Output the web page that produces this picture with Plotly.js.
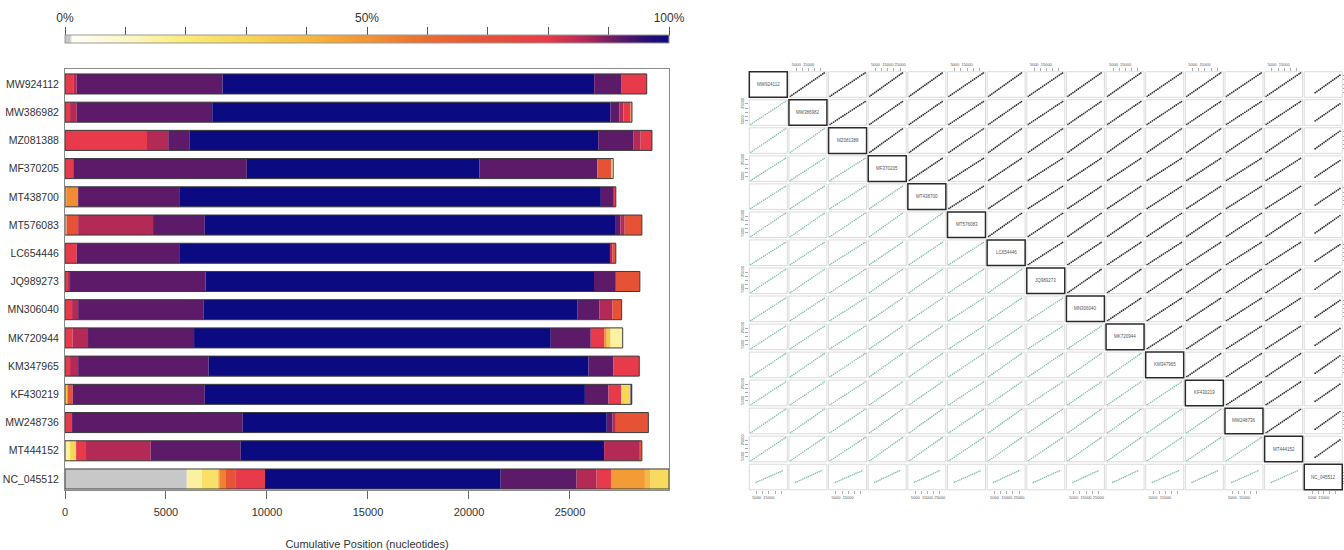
<!DOCTYPE html>
<html><head><meta charset="utf-8">
<script src="https://cdn.plot.ly/plotly-3.0.1.min.js"></script>
<style>html,body{margin:0;padding:0;background:#fff}#chart{width:1344px;height:550px}</style>
</head><body><div id="chart"></div>
<script>
// ---------- genomes (rows, top to bottom) ----------
const genomes = ['MW924112','MW386982','MZ081388','MF370205','MT438700','MT576083','LC654446','JQ989273','MN306040','MK720944','KM347965','KF430219','MW248736','MT444152','NC_045512'];

// ---------- left chart: segment lengths (nt) and identity (%) ----------
const segMW924112 = [410,170,7220,18400,1360,1240];
const pctMW924112 = [80,86,92,100,92,80];
const segMW386982 = [250,330,6710,19720,430,200,360,70];
const pctMW386982 = [80,86,92,100,92,86,80,50];
const segMZ081388 = [4060,1050,1070,20220,1730,370,560];
const pctMZ081388 = [80,86,92,100,92,86,80];
const segMF370205 = [410,8590,11510,5840,710,80];
const pctMF370205 = [80,92,100,92,70,15];
const segMT438700 = [60,590,5040,20840,640,100];
const pctMT438700 = [30,52,92,100,92,80];
const segMT576083 = [70,580,3710,2560,20350,230,210,850];
const pctMT576083 = [12,70,86,92,100,92,86,70];
const segLC654446 = [580,5110,21290,130,160];
const pctLC654446 = [80,92,100,86,70];
const segJQ989273 = [150,100,6710,19230,1080,1190];
const pctJQ989273 = [80,86,92,100,92,70];
const segMN306040 = [350,300,6200,18530,1070,660,450];
const pctMN306040 = [80,86,92,100,92,86,70];
const segMK720944 = [380,760,5250,17660,1980,660,130,190,600];
const pctMK720944 = [80,86,92,100,92,80,50,35,15];
const segKM347965 = [250,400,6460,18810,1220,1290];
const pctKM347965 = [80,86,92,100,92,80];
const segKF430219 = [120,260,6540,18820,1170,630,460,60];
const pctKF430219 = [35,70,92,100,92,80,30,100];
const segMW248736 = [350,8450,18020,290,160,1610];
const pctMW248736 = [80,92,100,92,86,70];
const segMT444152 = [250,300,490,3200,4460,17990,1770,100];
const pctMT444152 = [15,30,80,86,92,100,86,70];
const segNC_045512 = [6030,740,820,80,300,490,1440,11670,3760,990,710,1680,280,913];
const pctNC_045512 = [0,15,25,45,55,70,80,100,92,86,80,48,40,28];

const xTicks = [0,5000,10000,15000,20000,25000];
const xTickLabels = ['0','5000','10000','15000','20000','25000'];
const scaleTicks = [0,10,20,30,40,50,60,70,80,90,100];
const scaleLabels = ['0%','','','','','50%','','','','','100%'];

// ---------- right chart: aligned anchor positions per genome ----------
const pMW924112 = [210,1530,3040,4560,6050,7590,9080,10620,12110,13640,15170,16660,18190,19700,21230,22740,24250,25770,27290,28480];
const pMW386982 = [190,1470,2960,4430,5910,7380,8870,10340,11820,13300,14770,16250,17730,19210,20680,22160,23640,25110,26590,27780];
const pMZ081388 = [220,1540,3070,4600,6120,7660,9190,10710,12250,13770,15300,16830,18370,19890,21420,22950,24480,26010,27540,28760];
const pMF370205 = [180,1430,2860,4280,5710,7140,8570,9990,11420,12850,14280,15710,17140,18560,19990,21420,22850,24280,25700,26850];
const pMT438700 = [190,1440,2870,4300,5740,7180,8610,10050,11480,12920,14350,15790,17230,18660,20100,21530,22970,24400,25840,26990];
const pMT576083 = [200,1500,3010,4510,6010,7520,9020,10520,12030,13530,15030,16530,18040,19540,21040,22550,24050,25550,27060,28260];
const pLC654446 = [190,1430,2870,4310,5740,7170,8610,10040,11490,12920,14350,15790,17220,18660,20090,21530,22960,24400,25830,26980];
const pJQ989273 = [200,1500,3000,4490,5990,7490,8990,10480,11980,13480,14980,16480,17970,19470,20970,22470,23970,25460,26960,28150];
const pMN306040 = [190,1450,2900,4350,5800,7250,8700,10150,11600,13050,14500,15960,17410,18860,20310,21760,23210,24660,26110,27260];
const pMK720944 = [190,1450,2910,4360,5810,7270,8720,10170,11630,13080,14540,15990,17440,18900,20350,21800,23250,24710,26160,27310];
const pKM347965 = [200,1500,2990,4490,5990,7480,8980,10470,11970,13470,14960,16460,17960,19450,20950,22440,23940,25440,26930,28130];
const pKF430219 = [200,1480,2950,4430,5900,7380,8860,10330,11810,13280,14760,16240,17710,19190,20660,22140,23620,25090,26570,27750];
const pMW248736 = [200,1520,3040,4560,6080,7600,9120,10640,12160,13680,15200,16720,18240,19760,21280,22800,24320,25840,27360,28560];
const pMT444152 = [210,1500,3010,4510,6010,7510,9020,10520,12020,13530,15030,16530,18040,19540,21040,22540,24050,25550,27050,28250];
const pNC_045512 = [null,null,null,7600,9100,10600,12100,13600,15100,16600,18100,19600,21100,22600,24100,25600,27100,28600,null,null];

const pairTicks = [5000,10000,15000,20000,25000];
const pairLabA = ['5000','','15000','',''];
const pairLabB = ['5000','','15000','','25000'];
const pairLabY = ['5000','','','','25000'];

// ---------- build ----------
const W = 1344, H = 550;
const FONT = 'Liberation Sans, Arial, Helvetica, sans-serif';
const segs = [segMW924112,segMW386982,segMZ081388,segMF370205,segMT438700,segMT576083,segLC654446,segJQ989273,segMN306040,segMK720944,segKM347965,segKF430219,segMW248736,segMT444152,segNC_045512];
const pcts = [pctMW924112,pctMW386982,pctMZ081388,pctMF370205,pctMT438700,pctMT576083,pctLC654446,pctJQ989273,pctMN306040,pctMK720944,pctKM347965,pctKF430219,pctMW248736,pctMT444152,pctNC_045512];
const pos = [pMW924112,pMW386982,pMZ081388,pMF370205,pMT438700,pMT576083,pLC654446,pJQ989273,pMN306040,pMK720944,pKM347965,pKF430219,pMW248736,pMT444152,pNC_045512];

const colorscale = [
  [0,'#c8c8c8'],[0.008,'#c8c8c8'],[0.012,'#fffef6'],[0.1,'#fdf6c8'],[0.15,'#fcf1a0'],
  [0.2,'#faeb78'],[0.3,'#f8d658'],[0.4,'#f6b842'],[0.45,'#f5a535'],[0.5,'#f29434'],
  [0.6,'#ea6c30'],[0.7,'#e65236'],[0.8,'#e73a4a'],[0.86,'#b42a56'],[0.92,'#5c1a68'],
  [0.96,'#2c1074'],[1,'#0c0a80']
];

const bx = [], by = [], bbase = [], bc = [], totals = [], rowsY = [];
segs.forEach((s, r) => {
  const yv = genomes.length - 1 - r;
  rowsY.push(yv);
  let cum = 0;
  s.forEach((len, k) => {
    bx.push(len); by.push(yv); bbase.push(cum); bc.push(pcts[r][k]);
    cum += len;
  });
  totals.push(cum);
});

const traces = [];
traces.push({
  type:'bar', orientation:'h', x:bx, y:by, base:bbase, width:0.71,
  xaxis:'x', yaxis:'y', hoverinfo:'skip', showlegend:false,
  marker:{color:bc, colorscale:colorscale, cmin:0, cmax:100, line:{width:0},
    showscale:true,
    colorbar:{orientation:'h', xref:'paper', yref:'paper', x:65/W, xanchor:'left',
      y:1-44/H, yanchor:'bottom', len:604, lenmode:'pixels', thickness:8,
      xpad:0, ypad:0, outlinewidth:1, outlinecolor:'#999', ticks:'', showticklabels:false}}
});
traces.push({
  type:'bar', orientation:'h', x:totals, y:rowsY, base:totals.map(() => 0), width:0.71,
  xaxis:'x', yaxis:'y', hoverinfo:'skip', showlegend:false,
  marker:{color:'rgba(0,0,0,0)', line:{color:'#3a3a3a', width:1}}
});
// empty trace carrying the percent scale axis
traces.push({type:'scatter', x:[], y:[], xaxis:'x17', yaxis:'y17', hoverinfo:'skip', showlegend:false});

const layout = {
  width:W, height:H, margin:{l:0,r:0,t:0,b:0, autoexpand:false},
  paper_bgcolor:'#fff', plot_bgcolor:'rgba(0,0,0,0)',
  font:{family:FONT, color:'#333'},
  barmode:'overlay', hovermode:false, showlegend:false,
  xaxis:{domain:[65/W, 669/W], range:[0,29903], anchor:'y', tickvals:xTicks, ticktext:xTickLabels,
    ticks:'outside', ticklen:8, tickcolor:'#666', showline:true, mirror:true, linecolor:'#8a8a8a',
    showgrid:false, zeroline:false, tickfont:{size:11, color:'#333'}, ticklabelstandoff:4,
    title:{text:'Cumulative Position (nucleotides)', font:{size:11, color:'#333'}, standoff:26}},
  yaxis:{domain:[1-490/H, 1-69/H], range:[-0.39,14.53], anchor:'x', tickvals:rowsY, ticktext:genomes,
    ticks:'', showline:true, mirror:true, linecolor:'#8a8a8a', showgrid:false, zeroline:false,
    tickfont:{size:10.5, color:'#333'}, ticklabelstandoff:3},
  xaxis17:{domain:[65/W, 669/W], range:[0,100], anchor:'free', position:1-36/H, side:'top',
    tickvals:scaleTicks, ticktext:scaleLabels, ticks:'outside', ticklen:9, tickcolor:'#555',
    showline:false, showgrid:false, zeroline:false, tickfont:{size:12, color:'#333'}},
  yaxis17:{domain:[1-44/H, 1-36/H], anchor:'x17', visible:false, range:[0,1]},
  shapes:[], annotations:[]
};

// pairs matrix geometry
const n = genomes.length;
const cx0 = 749.3, cpitch = 39.64, cw = 38;
const cy0 = 71.7, rpitch = 28.04, ch = 25.6;
for (let j = 0; j < n; j++) {
  const a = cx0 + j*cpitch;
  const top = (j % 2 === 1);
  layout['xaxis' + (j+2)] = {
    domain:[a/W, (a+cw)/W], range: j === n-1 ? [-1700,30600] : [-1000,30000],
    anchor: top ? 'y2' : 'y' + (n+1), side: top ? 'top' : 'bottom',
    showgrid:false, zeroline:false, showline:false,
    tickvals:pairTicks, ticktext: (j===3 || j===4 || j===6 || j===8) ? pairLabB : pairLabA,
    tickangle:0, ticks:'outside', ticklen:3, tickwidth:0.6, tickcolor:'#777',
    tickfont:{size:4, color:'#555'}
  };
}
for (let i = 0; i < n; i++) {
  const t = cy0 + i*rpitch;
  const left = (i % 2 === 1);
  layout['yaxis' + (i+2)] = {
    domain:[1-(t+ch)/H, 1-t/H], range: i === n-1 ? [-6000,40700] : [-1000,30000],
    anchor: left ? 'x2' : 'x' + (n+1), side: left ? 'left' : 'right',
    showgrid:false, zeroline:false, showline:false,
    tickvals:pairTicks, ticktext:pairLabY, tickangle:-90, showticklabels:left,
    ticks:'outside', ticklen:3, tickwidth:0.6, tickcolor:'#777',
    tickfont:{size:4, color:'#555'}
  };
}
for (let i = 0; i < n; i++) {
  for (let j = 0; j < n; j++) {
    const xr = 'x' + (j+2), yr = 'y' + (i+2);
    const diag = i === j;
    layout.shapes.push({type:'rect', xref:xr + ' domain', yref:yr + ' domain', x0:0, x1:1, y0:0, y1:1,
      line:{color: diag ? '#2a2a2a' : '#d2d2d2', width: diag ? 1.5 : 0.8}, fillcolor:'rgba(0,0,0,0)'});
    if (diag) {
      layout.annotations.push({xref:xr + ' domain', yref:yr + ' domain', x:0.5, y:0.5,
        text:genomes[i], showarrow:false, font:{size:4.5, color:'#555'}});
    } else {
      traces.push({type:'scatter', mode:'markers', x:pos[j], y:pos[i], xaxis:xr, yaxis:yr,
        hoverinfo:'skip', showlegend:false, cliponaxis:true,
        marker:{size: i < j ? 1.8 : 1.6, color: i < j ? '#333333' : '#7dbfad'}});
    }
  }
}

Plotly.newPlot('chart', traces, layout, {displayModeBar:false, staticPlot:true});
</script>
</body></html>
